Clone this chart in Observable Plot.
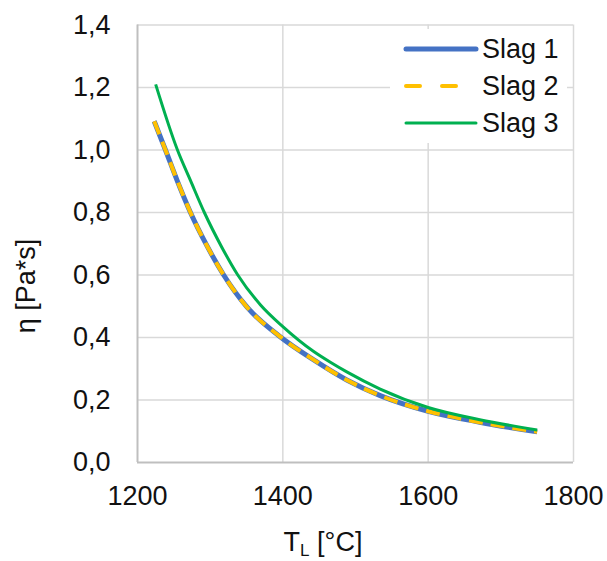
<!DOCTYPE html>
<html>
<head>
<meta charset="utf-8">
<script src="https://cdn.jsdelivr.net/npm/d3@7"></script>
<script src="https://cdn.jsdelivr.net/npm/@observablehq/plot@0.6"></script>
<style>
  html, body { margin: 0; padding: 0; background: #fff; }
  #chart { width: 607px; height: 561px; }
</style>
</head>
<body>
<div id="chart"></div>
<script>
// ---- data ----
const temps12 = [1223, 1238.5, 1254.6, 1272.9, 1296.6, 1318.6, 1350.8, 1395, 1442, 1488, 1534, 1600, 1671, 1750];
const slag1 = [1.092, 1.0, 0.902, 0.80, 0.689, 0.60, 0.497, 0.405, 0.329, 0.264, 0.214, 0.164, 0.129, 0.098];
const slag2 = [1.092, 1.0, 0.902, 0.80, 0.689, 0.60, 0.497, 0.405, 0.329, 0.264, 0.214, 0.164, 0.129, 0.098];
const temps3 = [1225, 1255, 1273, 1292, 1316, 1338, 1369, 1400, 1442, 1466, 1488, 1534, 1600, 1671, 1750];
const slag3 = [1.21, 1.00, 0.902, 0.80, 0.689, 0.60, 0.505, 0.435, 0.356, 0.32, 0.29, 0.235, 0.176, 0.137, 0.104];
const seriesNames = ["Slag 1", "Slag 2", "Slag 3"];
const xTicks = [1200, 1400, 1600, 1800];
const yTicks = [0, 0.2, 0.4, 0.6, 0.8, 1.0, 1.2, 1.4];
const xLabelMain = "T";
const xLabelSub = "L";
const xLabelRest = " [°C]";
const yLabel = "η [Pa*s]";

const colors = {"Slag 1": "#4472C4", "Slag 2": "#FFC000", "Slag 3": "#00B050"};
const lineStyles = {
  "Slag 1": {strokeWidth: 5, dash: null},
  "Slag 2": {strokeWidth: 4, dash: "14,8"},
  "Slag 3": {strokeWidth: 3, dash: null}
};

const seriesData = [[temps12, slag1], [temps12, slag2], [temps3, slag3]];
const rows = (i) => seriesData[i][0].map((t, j) => ({T: t, eta: seriesData[i][1][j], s: seriesNames[i]}));

const font = "'Liberation Sans', Arial, sans-serif";
const fs = 27;

const lineMarks = seriesNames.map((name, i) => Plot.line(rows(i), {
  x: "T", y: "eta",
  stroke: colors[name],
  strokeWidth: lineStyles[name].strokeWidth,
  strokeDasharray: lineStyles[name].dash,
  strokeLinecap: "butt",
  curve: "monotone-x"
}));

const chart = Plot.plot({
  width: 607,
  height: 561,
  marginLeft: 137,
  marginRight: 34,
  marginTop: 24.5,
  marginBottom: 99,
  style: {fontFamily: font, fontSize: fs + "px", color: "#111", background: "#fff"},
  x: {domain: [1200, 1800]},
  y: {domain: [0, 1.4]},
  marks: [
    Plot.gridX(xTicks.slice(1), {stroke: "#d9d9d9", strokeOpacity: 1, strokeWidth: 1.5}),
    Plot.gridY(yTicks.slice(1), {stroke: "#d9d9d9", strokeOpacity: 1, strokeWidth: 1.5}),
    Plot.ruleX([xTicks[0]], {stroke: "#bfbfbf", strokeWidth: 2}),
    Plot.ruleY([yTicks[0]], {stroke: "#bfbfbf", strokeWidth: 2}),
    Plot.axisX(xTicks, {tickSize: 0, tickPadding: 23, label: null, fontSize: fs,
      tickFormat: d => String(d)}),
    Plot.axisY(yTicks, {tickSize: 0, tickPadding: 27, label: null, fontSize: fs,
      tickFormat: d => d.toFixed(1).replace(".", ",")}),
    ...lineMarks
  ]
});

document.getElementById("chart").appendChild(chart);

// ---- legend and axis titles ----
const svg = d3.select(chart);
const lg = svg.append("g").attr("font-family", font).attr("font-size", fs).attr("text-anchor", "start");
lg.append("rect").attr("x", 390).attr("y", 29).attr("width", 177).attr("height", 114).attr("fill", "#fff");
seriesNames.forEach((name, i) => {
  const cy = 49 + i * 37;
  lg.append("line")
    .attr("x1", 406).attr("x2", 476).attr("y1", cy).attr("y2", cy)
    .attr("stroke", colors[name])
    .attr("stroke-width", lineStyles[name].strokeWidth)
    .attr("stroke-linecap", "round")
    .attr("stroke-dasharray", name === "Slag 2" ? "14,22" : null);
  lg.append("text").attr("x", 482).attr("y", cy).attr("dy", "0.35em").attr("fill", "#111").text(name);
});

const xt = svg.append("text")
  .attr("font-family", font).attr("font-size", fs).attr("fill", "#111")
  .attr("text-anchor", "middle").attr("x", 323).attr("y", 551);
xt.append("tspan").text(xLabelMain);
xt.append("tspan").attr("font-size", 17).attr("dy", 5).text(xLabelSub);
xt.append("tspan").attr("dy", -5).text(xLabelRest);

svg.append("text")
  .attr("font-family", font).attr("font-size", fs).attr("fill", "#111")
  .attr("text-anchor", "middle")
  .attr("transform", "translate(35,286) rotate(-90)")
  .text(yLabel);
</script>
</body>
</html>
